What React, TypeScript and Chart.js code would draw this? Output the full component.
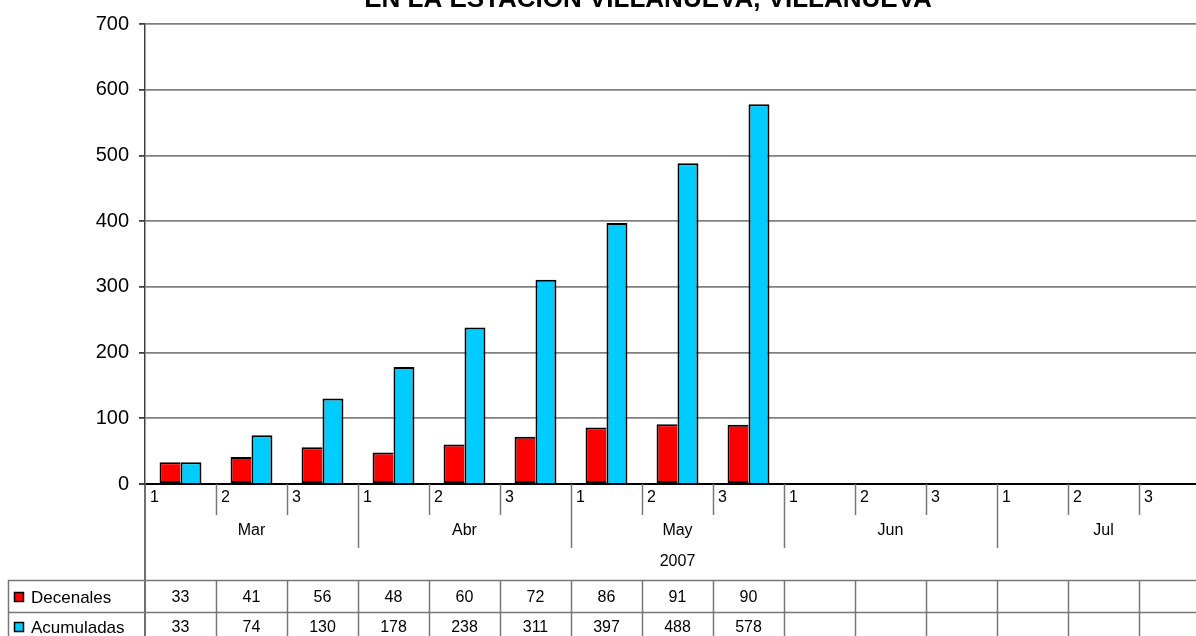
import React, { useEffect, useRef } from "react";
import { Chart, registerables } from "chart.js";

Chart.register(...registerables);

const title = "EN LA ESTACION VILLANUEVA, VILLANUEVA";
const decades = ["1", "2", "3", "1", "2", "3", "1", "2", "3", "1", "2", "3", "1", "2", "3"];
const months = ["Mar", "Abr", "May", "Jun", "Jul"];
const year = "2007";
const decenales: (number | null)[] = [33, 41, 56, 48, 60, 72, 86, 91, 90, null, null, null, null, null, null];
const acumuladas: (number | null)[] = [33, 74, 130, 178, 238, 311, 397, 488, 578, null, null, null, null, null, null];
const seriesNames = ["Decenales", "Acumuladas"];
const seriesColors = ["#FF0000", "#00CCFF"];

const FONT = "'Liberation Sans', Arial, sans-serif";
const CW = 1220;
const CH = 636;

const tablePlugin = {
  id: "tablePlugin",
  afterDraw(chart: any) {
    const ctx = chart.ctx;
    const { left, right, bottom } = chart.chartArea;
    const n = decades.length;
    const catW = (right - left) / n;
    ctx.save();
    // title
    ctx.fillStyle = "#000";
    ctx.font = `bold 26px ${FONT}`;
    ctx.textAlign = "center";
    ctx.textBaseline = "alphabetic";
    ctx.fillText(title, 648, 7);

    // separators below axis
    ctx.strokeStyle = "#777";
    ctx.lineWidth = 1.5;
    for (let i = 1; i <= n; i++) {
      const x = Math.round(left + i * catW) + 0.5;
      ctx.beginPath();
      ctx.moveTo(x, bottom);
      ctx.lineTo(x, i % 3 === 0 ? 548 : 515);
      ctx.stroke();
    }
    // left axis line extension
    ctx.strokeStyle = "#404040";
    ctx.beginPath();
    ctx.moveTo(left, bottom);
    ctx.lineTo(left, CH);
    ctx.stroke();

    // decade labels
    ctx.fillStyle = "#000";
    ctx.font = `16px ${FONT}`;
    ctx.textAlign = "left";
    ctx.textBaseline = "middle";
    for (let i = 0; i < n; i++) {
      ctx.fillText(decades[i], left + i * catW + 5, 498);
    }
    // month labels
    ctx.textAlign = "center";
    months.forEach((m, j) => {
      ctx.fillText(m, left + (j * 3 + 1.5) * catW, 531);
    });
    ctx.fillText(year, (left + right) / 2, 562);

    // table grid
    ctx.strokeStyle = "#777";
    ctx.lineWidth = 1.5;
    [580, 612].forEach((y) => {
      ctx.beginPath();
      ctx.moveTo(8, y + 0.5);
      ctx.lineTo(right, y + 0.5);
      ctx.stroke();
    });
    ctx.beginPath();
    ctx.moveTo(8.5, 580);
    ctx.lineTo(8.5, CH);
    ctx.stroke();
    for (let i = 1; i <= n; i++) {
      const x = Math.round(left + i * catW) + 0.5;
      ctx.beginPath();
      ctx.moveTo(x, 580);
      ctx.lineTo(x, CH);
      ctx.stroke();
    }

    // rows
    const rows = [decenales, acumuladas];
    const rowY = [597, 627];
    rows.forEach((vals, r) => {
      const y = rowY[r];
      ctx.fillStyle = seriesColors[r];
      ctx.fillRect(14, y - 5, 10, 10);
      ctx.strokeStyle = "#000";
      ctx.lineWidth = 1.5;
      ctx.strokeRect(14.5, y - 4.5, 9, 9);
      ctx.fillStyle = "#000";
      ctx.font = `17px ${FONT}`;
      ctx.textAlign = "left";
      ctx.fillText(seriesNames[r], 31, y + 1);
      ctx.font = `16px ${FONT}`;
      ctx.textAlign = "center";
      vals.forEach((v, i) => {
        if (v !== null) ctx.fillText(String(v), left + (i + 0.5) * catW, y + 1);
      });
    });
    ctx.restore();
  },
};

export default function App() {
  const ref = useRef<HTMLCanvasElement>(null);
  useEffect(() => {
    if (!ref.current) return;
    const chart = new Chart(ref.current, {
      type: "bar",
      data: {
        labels: decades,
        datasets: [
          {
            label: seriesNames[0],
            data: decenales,
            backgroundColor: seriesColors[0],
            borderColor: "#000",
            borderWidth: 2,
            borderSkipped: "right",
            categoryPercentage: 0.59,
            barPercentage: 1,
          },
          {
            label: seriesNames[1],
            data: acumuladas,
            backgroundColor: seriesColors[1],
            borderColor: "#000",
            borderWidth: 2,
            categoryPercentage: 0.59,
            barPercentage: 1,
          },
        ],
      },
      options: {
        responsive: false,
        animation: false,
        devicePixelRatio: 1,
        layout: { padding: { left: 0, top: 24, right: CW - 1210, bottom: CH - 484 } },
        plugins: { legend: { display: false }, title: { display: false }, tooltip: { enabled: false } },
        scales: {
          x: { display: false, offset: true },
          y: {
            min: 0,
            max: 700,
            ticks: {
              stepSize: 100,
              color: "#000",
              font: { family: FONT, size: 20 },
              padding: 10,
            },
            grid: {
              color: (c: any) => (c.tick && c.tick.value === 0 ? "#000" : "#808080"),
              lineWidth: (c: any) => (c.tick && c.tick.value === 0 ? 2 : 1.8),
              tickColor: "#404040",
              tickLength: 6,
            },
            border: { color: "#404040", width: 1.5 },
            afterFit: (s: any) => {
              s.width = 145;
            },
          },
        },
      },
      plugins: [tablePlugin],
    });
    return () => chart.destroy();
  }, []);
  return (
    <div style={{ position: "fixed", left: 0, top: 0, width: 1196, height: 636, overflow: "hidden", background: "#fff" }}>
      <canvas ref={ref} width={CW} height={CH} style={{ position: "absolute", left: 0, top: 0 }} />
    </div>
  );
}
